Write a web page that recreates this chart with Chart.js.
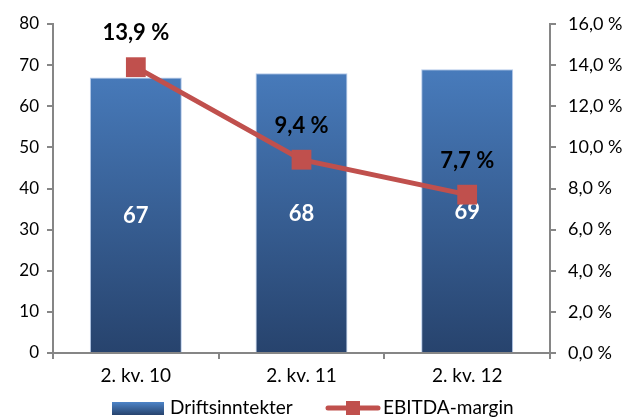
<!DOCTYPE html>
<html>
<head>
<meta charset="utf-8">
<script src="https://cdn.jsdelivr.net/npm/chart.js@4"></script>
<style>
  html, body { margin: 0; padding: 0; background: #fff; }
  #wrap { width: 629px; height: 417px; }
</style>
</head>
<body>
<div id="wrap"><canvas id="grafik"></canvas></div>
<script>
const kvartaler = ['2. kv. 10', '2. kv. 11', '2. kv. 12'];
const driftsinntekter = [67, 68, 69];
const ebitdaMargin = [13.9, 9.4, 7.7];
const venstreTicks = [0, 10, 20, 30, 40, 50, 60, 70, 80];
const hoyreTicks = [0, 2, 4, 6, 8, 10, 12, 14, 16];

const FONT = 'Lato, "Open Sans", sans-serif';
const AKSE = '#868686';
const ROD = '#c0504d';

function prosent(v, des) {
    return v.toFixed(des).replace('.', ',') + ' %';
}

function blaaGradient(context) {
    const area = context.chart.chartArea;
    if (!area) return '#3f6fae';
    const g = context.chart.ctx.createLinearGradient(0, area.top, 0, area.bottom);
    g.addColorStop(0, '#4d84c8');
    g.addColorStop(1, '#27436d');
    return g;
}

// verdietiketter: bar-tall under linja, prosent over punktene
const etiketter = {
    id: 'etiketter',
    afterDatasetDraw(chart, args) {
        if (args.index !== 1) return;
        const ctx = chart.ctx;
        ctx.save();
        ctx.textAlign = 'center';
        ctx.textBaseline = 'middle';
        ctx.font = 'bold 22px ' + FONT;
        ctx.fillStyle = '#ffffff';
        args.meta.data.forEach((bar, i) => {
            ctx.fillText(driftsinntekter[i], bar.x, (bar.y + bar.base) / 2 + 1);
        });
        ctx.restore();
    },
    afterDatasetsDraw(chart) {
        const ctx = chart.ctx;
        ctx.save();
        ctx.textAlign = 'center';
        ctx.textBaseline = 'middle';
        ctx.font = 'bold 22px ' + FONT;
        ctx.fillStyle = '#000000';
        chart.getDatasetMeta(0).data.forEach((pt, i) => {
            ctx.fillText(prosent(ebitdaMargin[i], 1), pt.x, pt.y - 34);
        });
        ctx.restore();
    }
};

// egen forklaring nederst
const forklaring = {
    id: 'forklaring',
    afterDraw(chart) {
        const ctx = chart.ctx;
        const y = 408;
        ctx.save();
        const g = ctx.createLinearGradient(0, y - 6, 0, y + 7);
        g.addColorStop(0, '#4d84c8');
        g.addColorStop(1, '#27436d');
        ctx.fillStyle = g;
        ctx.fillRect(112, y - 6, 52, 13);
        ctx.font = '19px ' + FONT;
        ctx.fillStyle = '#000';
        ctx.textBaseline = 'middle';
        ctx.textAlign = 'left';
        ctx.fillText('Driftsinntekter', 170, y);
        ctx.strokeStyle = ROD;
        ctx.lineWidth = 5;
        ctx.lineCap = 'round';
        ctx.beginPath();
        ctx.moveTo(328, y);
        ctx.lineTo(378, y);
        ctx.stroke();
        ctx.fillStyle = ROD;
        ctx.fillRect(346, y - 7, 14, 14);
        ctx.fillStyle = '#000';
        ctx.fillText('EBITDA-margin', 383, y);
        ctx.restore();
    }
};

const ctx = document.getElementById('grafik').getContext('2d');
const chart = new Chart(ctx, {
    data: {
        labels: kvartaler,
        datasets: [{
            type: 'line',
            label: 'EBITDA-margin',
            data: ebitdaMargin,
            yAxisID: 'y1',
            borderColor: ROD,
            backgroundColor: ROD,
            borderWidth: 5,
            pointStyle: 'rect',
            pointRadius: 14,
            pointHoverRadius: 14,
            pointBorderWidth: 0,
            pointHoverBorderWidth: 0,
            tension: 0,
            order: 0
        }, {
            type: 'bar',
            label: 'Driftsinntekter',
            data: driftsinntekter,
            yAxisID: 'y',
            backgroundColor: blaaGradient,
            borderColor: 'rgba(150,180,225,0.7)',
            borderWidth: 1,
            categoryPercentage: 1,
            barPercentage: 0.555,
            order: 1
        }]
    },
    options: {
        responsive: true,
        maintainAspectRatio: false,
        animation: false,
        layout: { padding: { top: 24, bottom: 28, left: 0, right: 0 } },
        plugins: {
            legend: { display: false },
            tooltip: { enabled: false }
        },
        scales: {
            x: {
                offset: true,
                grid: {
                    offset: true,
                    drawOnChartArea: false,
                    drawTicks: true,
                    tickLength: 6,
                    color: AKSE,
                    lineWidth: 2
                },
                border: { color: AKSE, width: 2 },
                ticks: { color: '#000', font: { family: FONT, size: 19 }, padding: 5 },
                afterFit(s) { s.height = 36; }
            },
            y: {
                position: 'left',
                min: 0,
                max: 80,
                afterBuildTicks(s) { s.ticks = venstreTicks.map(v => ({ value: v })); },
                grid: { drawOnChartArea: false, tickLength: 6, color: AKSE, lineWidth: 2 },
                border: { color: AKSE, width: 2 },
                ticks: { color: '#000', font: { family: FONT, size: 17 }, padding: 8 },
                afterFit(s) { s.width = 53; }
            },
            y1: {
                position: 'right',
                min: 0,
                max: 16,
                afterBuildTicks(s) { s.ticks = hoyreTicks.map(v => ({ value: v })); },
                grid: { drawOnChartArea: false, tickLength: 6, color: AKSE, lineWidth: 2 },
                border: { color: AKSE, width: 2 },
                ticks: {
                    color: '#000',
                    font: { family: FONT, size: 18 },
                    padding: 12,
                    callback: v => prosent(v, 1)
                },
                afterFit(s) { s.width = 79; }
            }
        }
    },
    plugins: [etiketter, forklaring]
});
</script>
</body>
</html>
